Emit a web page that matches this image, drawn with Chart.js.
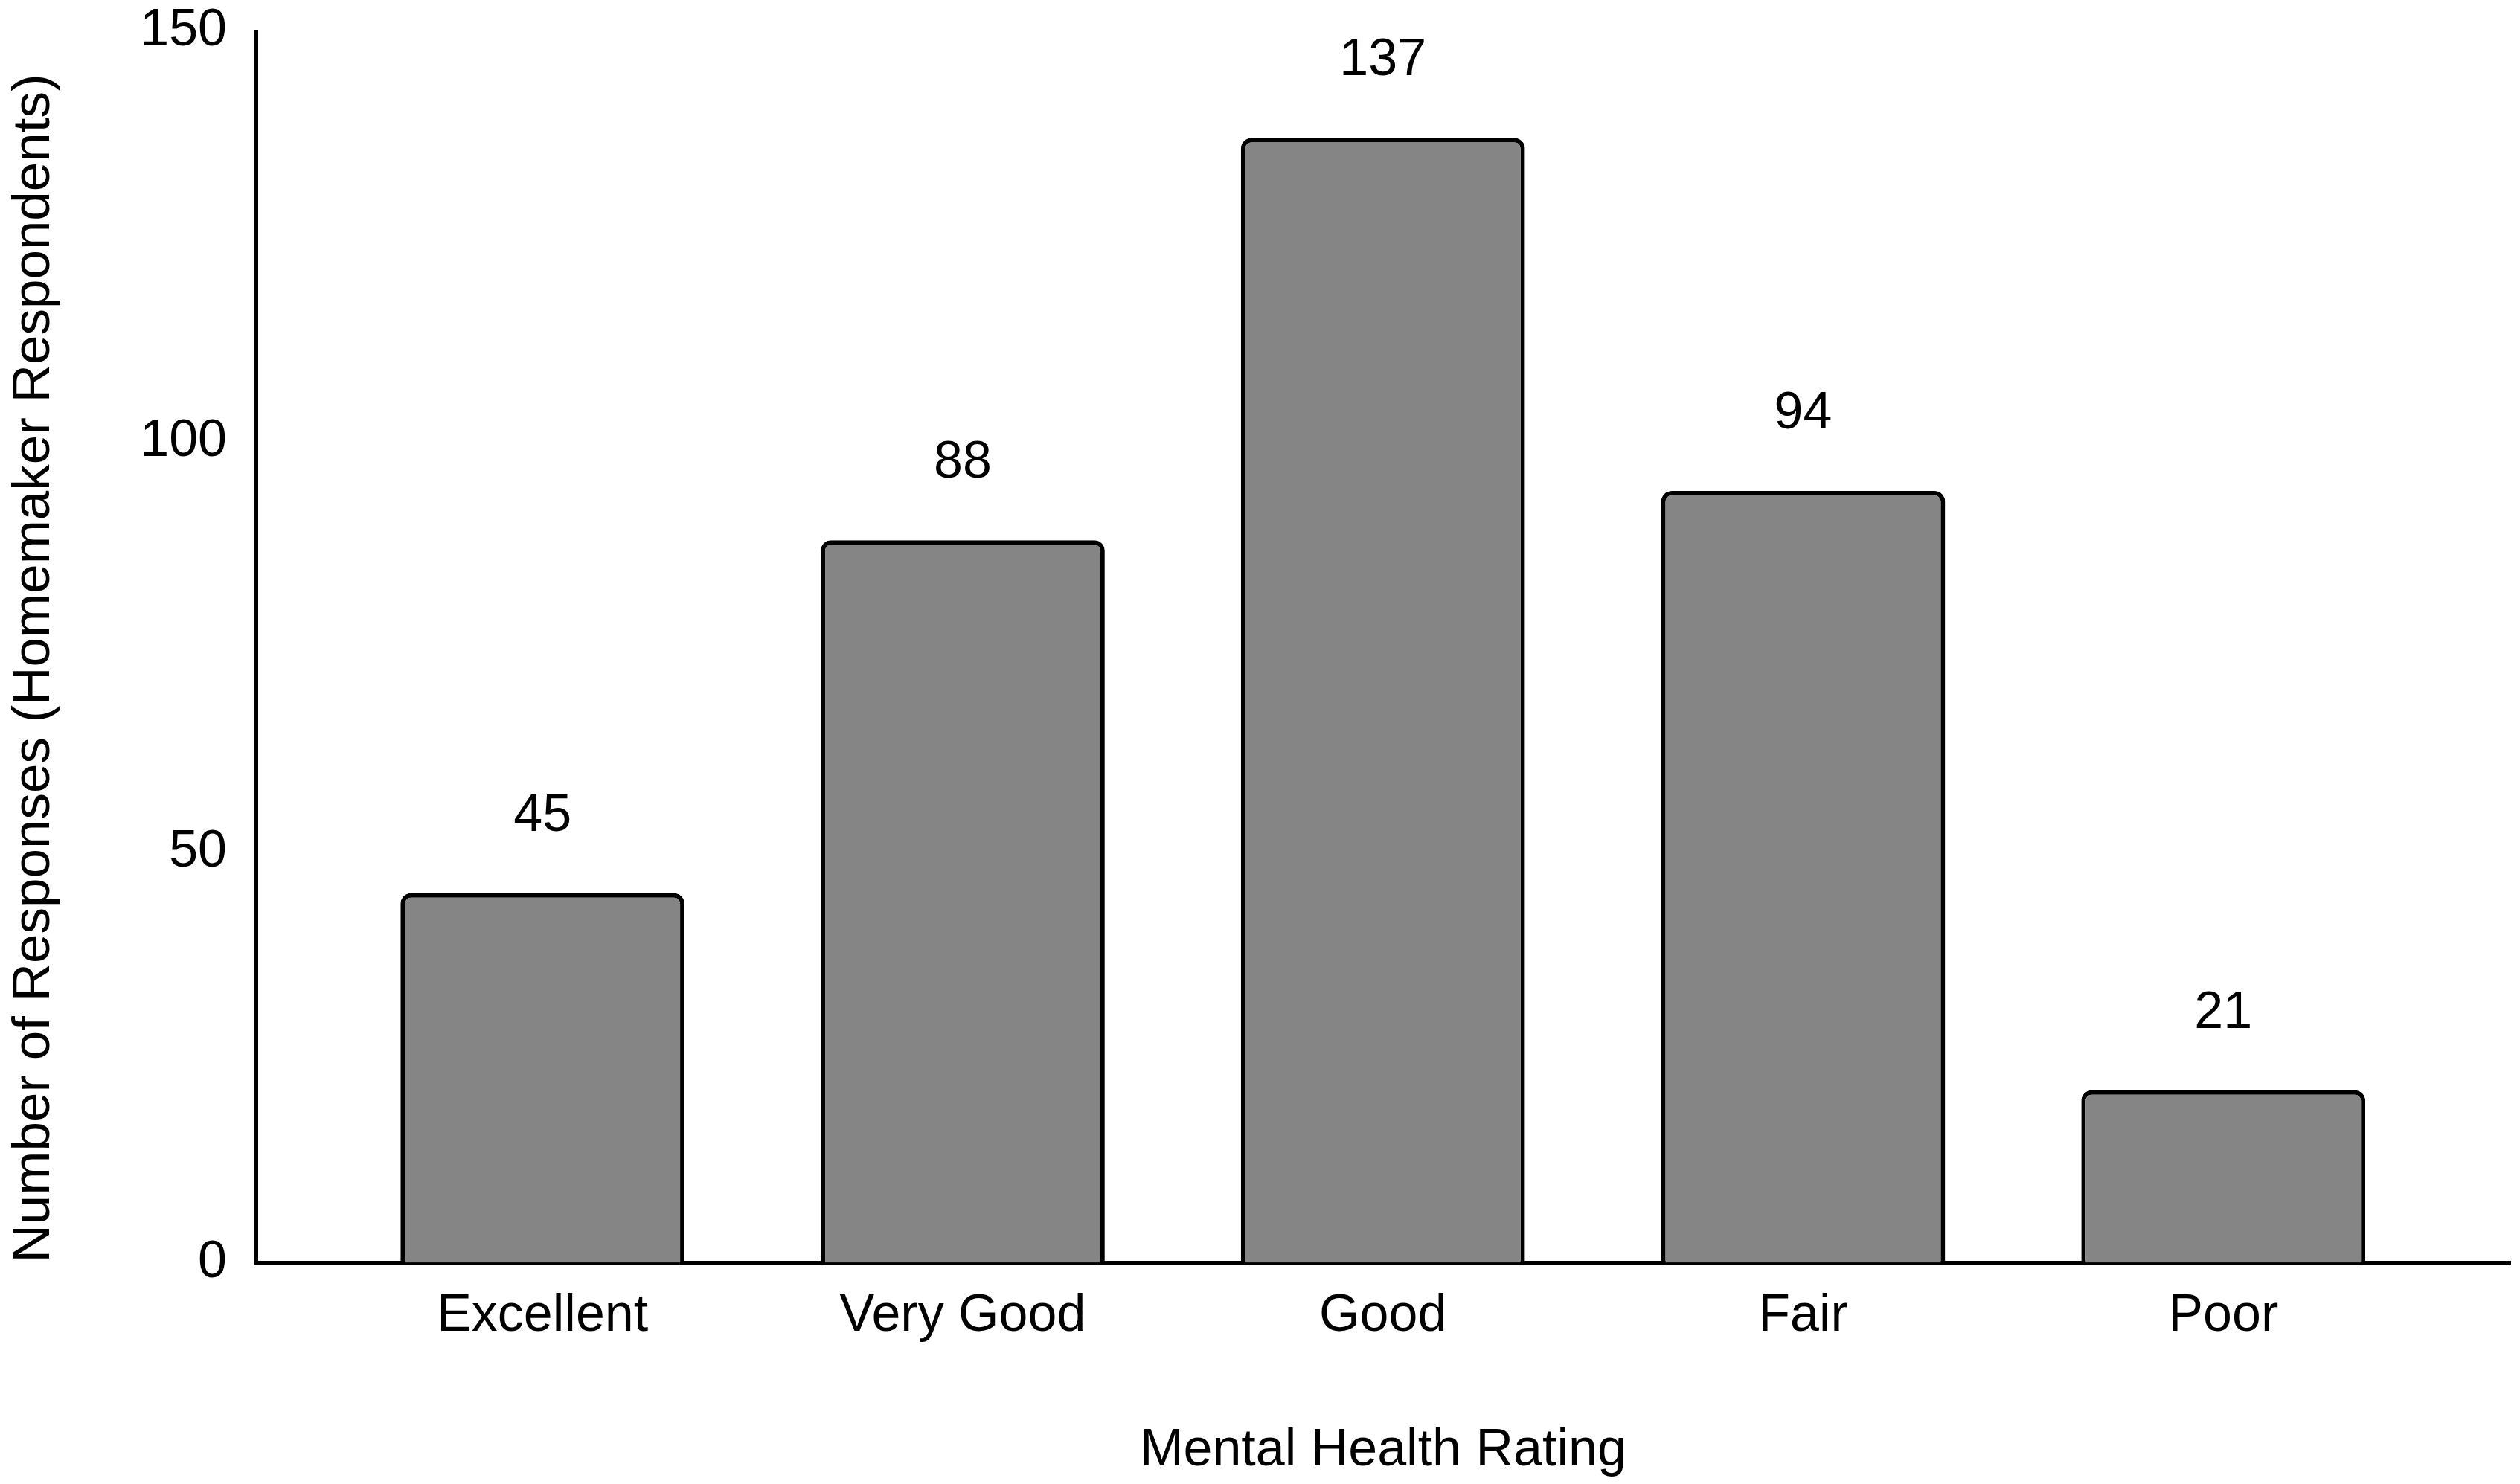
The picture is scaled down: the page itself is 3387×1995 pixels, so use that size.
<!DOCTYPE html>
<html>
<head>
<meta charset="utf-8">
<title>Mental Health Rating</title>
<script src="https://cdn.jsdelivr.net/npm/chart.js@4"></script>
<style>
  html, body { margin: 0; padding: 0; background: #fff; }
  #wrap { width: 3387px; height: 1995px; position: relative; }
</style>
</head>
<body>
<div id="wrap"><canvas id="ratingChart"></canvas></div>
<script>
// data
const categories = ['Excellent', 'Very Good', 'Good', 'Fair', 'Poor'];
const responses = [45, 88, 137, 94, 21];
const yTicks = [0, 50, 100, 150];

const FONT = "'Liberation Sans', Arial, sans-serif";
const TEXT = '#000';

// label angka di atas batang
const valueLabels = {
    id: 'valueLabels',
    afterDatasetsDraw(chart) {
        const ctx = chart.ctx;
        const meta = chart.getDatasetMeta(0);
        ctx.save();
        ctx.font = '70px ' + FONT;
        ctx.fillStyle = TEXT;
        ctx.textAlign = 'center';
        ctx.textBaseline = 'alphabetic';
        meta.data.forEach((bar, i) => {
            ctx.fillText(String(responses[i]), bar.x, bar.y - 84);
        });
        ctx.restore();
    }
};

new Chart(document.getElementById('ratingChart'), {
    type: 'bar',
    data: {
        datasets: [{
            label: 'Responses',
            data: categories.map((c, i) => ({ x: i, y: responses[i] })),
            backgroundColor: '#858585',
            borderColor: '#000',
            borderWidth: 6,
            borderRadius: { topLeft: 14, topRight: 14, bottomLeft: 0, bottomRight: 0 },
            borderSkipped: 'start',
            categoryPercentage: 1,
            barPercentage: 0.676
        }]
    },
    options: {
        responsive: true,
        maintainAspectRatio: false,
        animation: false,
        layout: { padding: { top: 42, right: 13, left: 0, bottom: 0 } },
        plugins: {
            legend: { display: false },
            tooltip: { enabled: false }
        },
        scales: {
            x: {
                type: 'linear',
                offset: false,
                min: -0.682,
                max: categories.length - 1 + 0.683,
                afterBuildTicks(axis) {
                    axis.ticks = categories.map((c, i) => ({ value: i }));
                },
                afterFit(scale) { scale.height = 297.5; },
                grid: { display: false, drawTicks: false, offset: false },
                border: { display: true, color: '#000', width: 5 },
                ticks: {
                    autoSkip: false,
                    maxRotation: 0,
                    padding: 30,
                    color: TEXT,
                    font: { family: FONT, size: 70 },
                    callback: (value) => categories[value]
                },
                title: {
                    display: true,
                    text: 'Mental Health Rating',
                    color: TEXT,
                    font: { family: FONT, size: 70 },
                    padding: { top: 0, bottom: 2 }
                }
            },
            y: {
                min: 0,
                max: 150,
                afterBuildTicks(axis) {
                    axis.ticks = yTicks.map(v => ({ value: v }));
                },
                afterFit(scale) {
                    scale.width = 344;
                    // jangan tambah ruang di atas/bawah untuk label tick
                    scale.paddingTop = 0;
                    scale.paddingBottom = 0;
                },
                grid: { display: false, drawTicks: false },
                border: { display: true, color: '#000', width: 5 },
                ticks: {
                    padding: 39,
                    color: TEXT,
                    font: { family: FONT, size: 70 }
                },
                title: {
                    display: true,
                    text: 'Number of Responses (Homemaker Respondents)',
                    align: 'start',
                    color: TEXT,
                    font: { family: FONT, size: 71 },
                    padding: { top: 4, bottom: 0 }
                }
            }
        }
    },
    plugins: [valueLabels]
});
</script>
</body>
</html>
